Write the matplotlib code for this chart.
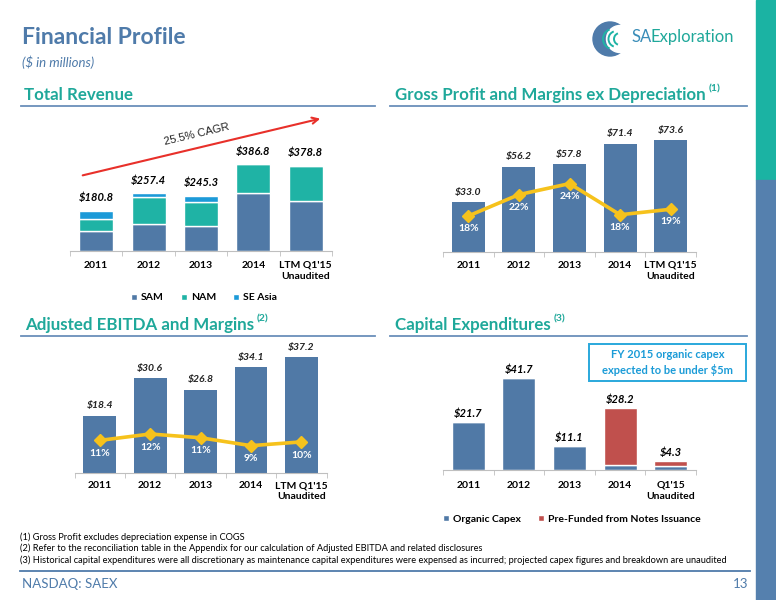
import numpy as np
import matplotlib.pyplot as plt
from matplotlib.patches import Rectangle, Ellipse, Arc, FancyArrowPatch

plt.rcParams['font.family'] = ['Lato', 'DejaVu Sans']

# data ($ in millions)
years = ['2011', '2012', '2013', '2014', "LTM Q1'15\nUnaudited"]
capex_years = ['2011', '2012', '2013', '2014', "Q1'15\nUnaudited"]

rev_sam = [89.0, 119.0, 112.0, 260.0, 223.0]
rev_nam = [52.0, 124.0, 105.0, 126.8, 155.8]
rev_sea = [39.8, 14.4, 28.3, 0.0, 0.0]
rev_total = [180.8, 257.4, 245.3, 386.8, 378.8]

gross_profit = [33.0, 56.2, 57.8, 71.4, 73.6]
gross_margin = [18.3, 21.8, 23.6, 18.5, 19.4]
gross_margin_lbl = ['18%', '22%', '24%', '18%', '19%']

ebitda = [18.4, 30.6, 26.8, 34.1, 37.2]
ebitda_margin = [10.2, 11.9, 10.9, 8.8, 9.8]
ebitda_margin_lbl = ['11%', '12%', '11%', '9%', '10%']

capex_organic = [21.7, 41.7, 11.1, 2.3, 1.8]
capex_prefunded = [0.0, 0.0, 0.0, 25.9, 2.5]
capex_total = [21.7, 41.7, 11.1, 28.2, 4.3]

BLUE = '#5079A6'
TEAL = '#1FB3A5'
SKY = '#1C9AD8'
RED = '#C0504D'
GOLD = '#F6C21C'
HEAD = '#1FA89A'
STEEL = '#4F7BAA'

W, H = 776, 600
fig = plt.figure(figsize=(7.76, 6.0), dpi=100)

# full-page layer in pixel coordinates (y down) for slide decoration
base = fig.add_axes([0, 0, 1, 1])
base.set_xlim(0, W)
base.set_ylim(H, 0)
base.axis('off')


def add_ax(x0, y0, x1, y1):
    return fig.add_axes([x0 / W, 1 - y1 / H, (x1 - x0) / W, (y1 - y0) / H])


def style_axis(ax, labels, pad):
    x = np.arange(len(labels))
    ax.set_xlim(-0.5, len(labels) - 0.5)
    ax.set_xticks(x)
    ax.set_xticklabels(labels, fontsize=7.5, fontweight='bold', linespacing=1.35)
    ax.set_xticks(np.arange(-0.5, len(labels), 1), minor=True)
    ax.tick_params(axis='x', which='major', length=0, pad=pad)
    ax.tick_params(axis='x', which='minor', length=3.5, color='#BFBFBF')
    ax.set_yticks([])
    for s in ['top', 'right', 'left']:
        ax.spines[s].set_visible(False)
    ax.spines['bottom'].set_color('#BFBFBF')
    ax.patch.set_alpha(0)


def section(x, y, x0, x1, title, note=None):
    t = base.text(x, y, title, fontsize=12.2, fontweight='bold', color=HEAD, va='center')
    if note:
        base.annotate(note, xy=(1, 0.6), xycoords=t, xytext=(2, 0), textcoords='offset points',
                      fontsize=7.5, fontweight='bold', color=HEAD, va='bottom')
    base.plot([x0, x1], [y + 11, y + 11], color='#6A8FBA', lw=1.3)


# header
base.text(22, 38, 'Financial Profile', fontsize=16.5, fontweight='bold', color=STEEL, va='center')
base.text(22, 62, '($ in millions)', fontsize=9.5, style='italic', color=STEEL, va='center')

# logo
base.add_patch(Ellipse((610, 39), 34, 34, color=STEEL))
base.add_patch(Ellipse((620, 39), 27, 27, color='white'))
for i, r in enumerate([10, 8, 6]):
    base.add_patch(Arc((613 + i * 3.5, 39), 2 * r, 2 * r, theta1=110, theta2=250, color=TEAL, lw=1.4))
logo = base.text(631, 37, 'SA', fontsize=12, color='#3A8DB8', va='center')
base.annotate('Exploration', xy=(1, 0), xycoords=logo, xytext=(-0.3, 0), textcoords='offset points',
              va='bottom', fontsize=12, color=HEAD)

# right strip
base.add_patch(Rectangle((756, 0), 20, 180, color='#1BB3A3'))
base.add_patch(Rectangle((756, 180), 20, 420, color='#5580AE'))

# ---- Total Revenue
section(24, 95, 21, 375, 'Total Revenue')
ax1 = add_ax(70, 120, 332, 251)
x = np.arange(5)
b1 = ax1.bar(x, rev_sam, 0.65, color=BLUE, edgecolor='white', lw=1, label='SAM')
b2 = ax1.bar(x, rev_nam, 0.65, bottom=rev_sam, color=TEAL, edgecolor='white', lw=1, label='NAM')
b3 = ax1.bar(x, rev_sea, 0.65, bottom=np.add(rev_sam, rev_nam), color=SKY, edgecolor='white', lw=1,
             label='SE Asia')
ax1.set_ylim(0, 585)
style_axis(ax1, years, 7)
for i, v in enumerate(rev_total):
    ax1.annotate('$%.1f' % v, (i, v), xytext=(0, 9.5), textcoords='offset points', ha='center', va='center',
                 fontsize=8, fontweight='bold', style='italic')
ax1.legend(handles=[b1, b2, b3], loc='center', bbox_to_anchor=(204 / W, 1 - 298 / H),
           bbox_transform=fig.transFigure, ncol=3, frameon=False, handlelength=0.6, handleheight=0.6,
           handletextpad=0.4, columnspacing=1.6, prop={'size': 7.5, 'weight': 'bold'})
base.add_patch(FancyArrowPatch((80, 176), (323, 118), arrowstyle='->', mutation_scale=11,
                               color='#E8302A', lw=1.5))
base.text(197, 134, '25.5% CAGR', fontsize=8, color='#222222', rotation=13.4, ha='center', va='center',
          family=['Liberation Sans', 'DejaVu Sans'])

# ---- Gross Profit
section(395, 95, 390, 747, 'Gross Profit and Margins ex Depreciation', '(1)')
ax2 = add_ax(443, 130.5, 696, 252.3)
ax2.bar(x, gross_profit, 0.65, color=BLUE)
ax2.set_ylim(0, 80)
style_axis(ax2, years, 6)
for i, v in enumerate(gross_profit):
    ax2.annotate('$%.1f' % v, (i, v), xytext=(0, 7.2), textcoords='offset points', ha='center', va='center',
                 fontsize=7.5, fontweight='bold', style='italic', color='#222222')
ax2b = ax2.twinx()
ax2b.plot(x, gross_margin, color=GOLD, lw=2.6, marker='D', ms=6)
ax2b.set_ylim(12.35, 32.3)
ax2b.axis('off')
for i, v in enumerate(gross_margin):
    ax2b.annotate(gross_margin_lbl[i], (i, v), xytext=(0, -9), textcoords='offset points', ha='center',
                  va='center', fontsize=7.5, fontweight='bold', color='white')

# ---- Adjusted EBITDA
section(25, 325, 21, 375, 'Adjusted EBITDA and Margins', '(2)')
ax3 = add_ax(74.6, 342.5, 326.5, 472.7)
ax3.bar(x, ebitda, 0.65, color=BLUE)
ax3.set_ylim(0, 42)
style_axis(ax3, years, 6)
for i, v in enumerate(ebitda):
    ax3.annotate('$%.1f' % v, (i, v), xytext=(0, 7), textcoords='offset points', ha='center', va='center',
                 fontsize=7.5, fontweight='bold', style='italic', color='#222222')
ax3b = ax3.twinx()
ax3b.plot(x, ebitda_margin, color=GOLD, lw=2.6, marker='D', ms=6)
ax3b.set_ylim(1.62, 36.2)
ax3b.axis('off')
for i, v in enumerate(ebitda_margin):
    ax3b.annotate(ebitda_margin_lbl[i], (i, v), xytext=(0, -9.5), textcoords='offset points', ha='center',
                  va='center', fontsize=7.5, fontweight='bold', color='white')

# ---- Capex
section(395, 325, 390, 747, 'Capital Expenditures', '(3)')
ax4 = add_ax(443, 337, 696, 470.3)
c1 = ax4.bar(x, capex_organic, 0.65, color=BLUE, edgecolor='white', lw=1, label='Organic Capex')
c2 = ax4.bar(x, capex_prefunded, 0.65, bottom=capex_organic, color=RED, edgecolor='white', lw=1,
             label='Pre-Funded from Notes Issuance')
ax4.set_ylim(0, 60)
style_axis(ax4, capex_years, 7.5)
for i, v in enumerate(capex_total):
    ax4.annotate('$%.1f' % v, (i, v), xytext=(0, 6), textcoords='offset points', ha='center', va='center',
                 fontsize=8, fontweight='bold', style='italic')
ax4.legend(handles=[c1, c2], loc='center', bbox_to_anchor=(572 / W, 1 - 519.3 / H),
           bbox_transform=fig.transFigure, ncol=2, frameon=False, handlelength=0.6, handleheight=0.6,
           handletextpad=0.4, columnspacing=1.6, prop={'size': 7.5, 'weight': 'bold'})
base.add_patch(Rectangle((589, 344.3), 157, 36.4, fill=False, edgecolor='#2AA8DC', lw=1.4))
base.text(667.5, 354.5, 'FY 2015 organic capex', fontsize=8, fontweight='bold', color='#1A9BD7',
          ha='center', va='center')
base.text(667.5, 370.5, 'expected to be under $5m', fontsize=8, fontweight='bold', color='#1A9BD7',
          ha='center', va='center')

# footnotes (condensed in the slide, so fit the longest line to its width)
notes = ['(1) Gross Profit excludes depreciation expense in COGS',
         '(2) Refer to the reconciliation table in the Appendix for our calculation of Adjusted EBITDA and related disclosures',
         '(3) Historical capital expenditures were all discretionary as maintenance capital expenditures were expensed as incurred; projected capex figures and breakdown are unaudited']
note_txt = [base.text(20, 537 + i * 11.5, n, fontsize=7, va='center') for i, n in enumerate(notes)]
r = fig.canvas.get_renderer()
size = 7 * 707 / note_txt[2].get_window_extent(r).width
for t in note_txt:
    t.set_fontsize(size)
base.plot([20, 750], [571, 571], color=STEEL, lw=1.3)
base.text(22, 584, 'NASDAQ: SAEX', fontsize=9.5, color=STEEL, va='center')
base.text(748, 584, '13', fontsize=9.5, color=STEEL, va='center', ha='right')

fig.savefig('out.png', dpi=100)
